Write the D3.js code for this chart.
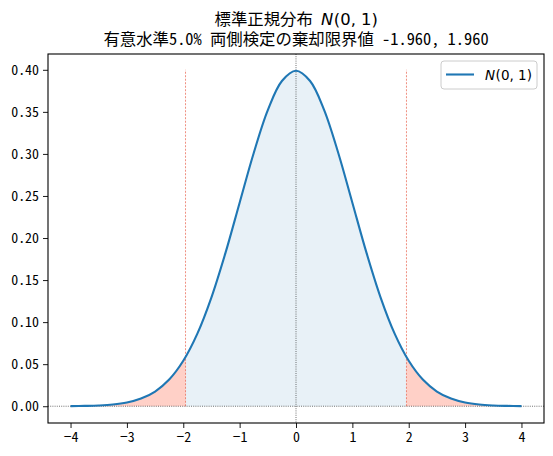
<!DOCTYPE html>
<html>
<head>
<meta charset="utf-8">
<script src="https://cdn.jsdelivr.net/npm/d3@7"></script>
<style>
  body { margin: 0; background: #fff; }
  text { font-family: "Noto Sans CJK JP", sans-serif; }
  .hw { font-feature-settings: "hwid" 1; }
</style>
</head>
<body>
<script>
var width = 553,
    height = 456,
    margin = {top: 54, right: 9, bottom: 33, left: 48};

// values (standard normal density)
var xs = [-4, -3.75, -3.5, -3.25, -3, -2.75, -2.5, -2.25, -2, -1.75, -1.5, -1.25, -1, -0.75, -0.5, -0.25,
          0, 0.25, 0.5, 0.75, 1, 1.25, 1.5, 1.75, 2, 2.25, 2.5, 2.75, 3, 3.25, 3.5, 3.75, 4];
var ys = [0.0001, 0.0004, 0.0009, 0.0020, 0.0044, 0.0091, 0.0175, 0.0317, 0.0540, 0.0863, 0.1295, 0.1826,
          0.2420, 0.3011, 0.3521, 0.3867, 0.3989, 0.3867, 0.3521, 0.3011, 0.2420, 0.1826, 0.1295, 0.0863,
          0.0540, 0.0317, 0.0175, 0.0091, 0.0044, 0.0020, 0.0009, 0.0004, 0.0001];
var critical = [-1.960, 1.960];
var critLineTop = 0.40;
var xTicks = [-4, -3, -2, -1, 0, 1, 2, 3, 4];
var yTicks = [0, 0.05, 0.10, 0.15, 0.20, 0.25, 0.30, 0.35, 0.40];
var title1 = "標準正規分布";
var title2 = "有意水準5.0%\u2002両側検定の棄却限界値\u2002-1.960,\u20021.960";

var data = xs.map(function(d, i) { return {x: d, y: ys[i]}; });

var svg = d3.select("body").append("svg")
    .attr("width", width)
    .attr("height", height);

var x = d3.scaleLinear().domain([-4.4, 4.4]).range([margin.left, width - margin.right]);
var y = d3.scaleLinear().domain([-0.01995, 0.4188]).range([height - margin.bottom, margin.top]);

var defs = svg.append("defs");
defs.append("clipPath").attr("id", "mid")
    .append("rect")
    .attr("x", x(critical[0])).attr("y", 0)
    .attr("width", x(critical[1]) - x(critical[0])).attr("height", height);
var tails = defs.append("clipPath").attr("id", "tails");
tails.append("rect").attr("x", 0).attr("y", 0).attr("width", x(critical[0])).attr("height", height);
tails.append("rect").attr("x", x(critical[1])).attr("y", 0)
    .attr("width", width - x(critical[1])).attr("height", height);

var area = d3.area()
    .curve(d3.curveCatmullRom)
    .x(function(d) { return x(d.x); })
    .y0(y(0))
    .y1(function(d) { return y(d.y); });

var line = d3.line()
    .curve(d3.curveCatmullRom)
    .x(function(d) { return x(d.x); })
    .y(function(d) { return y(d.y); });

svg.append("path").datum(data)
    .attr("d", area)
    .attr("fill", "#1f77b4").attr("fill-opacity", 0.1)
    .attr("clip-path", "url(#mid)");

svg.append("path").datum(data)
    .attr("d", area)
    .attr("fill", "#ff6347").attr("fill-opacity", 0.3)
    .attr("clip-path", "url(#tails)");

// critical value lines
svg.selectAll(".crit").data(critical).enter().append("line")
    .attr("class", "crit")
    .attr("x1", function(d) { return x(d); }).attr("x2", function(d) { return x(d); })
    .attr("y1", y(0)).attr("y2", y(critLineTop))
    .attr("stroke", "#e8604a").attr("stroke-width", 0.7)
    .attr("stroke-dasharray", "2,1.5");

// zero lines
svg.append("line")
    .attr("x1", margin.left).attr("x2", width - margin.right)
    .attr("y1", y(0)).attr("y2", y(0))
    .attr("stroke", "#333").attr("stroke-width", 0.7)
    .attr("stroke-dasharray", "1,1.2");
svg.append("line")
    .attr("x1", x(0)).attr("x2", x(0))
    .attr("y1", margin.top).attr("y2", height - margin.bottom)
    .attr("stroke", "#333").attr("stroke-width", 0.7)
    .attr("stroke-dasharray", "1,1.2");

svg.append("path").datum(data)
    .attr("d", line)
    .attr("fill", "none")
    .attr("stroke", "#1f77b4")
    .attr("stroke-width", 2.1);

// axes
var xAxis = svg.append("g")
    .attr("transform", "translate(0," + (height - margin.bottom) + ")")
    .call(d3.axisBottom(x).tickValues(xTicks).tickSize(5).tickPadding(4)
        .tickFormat(function(d) { return d < 0 ? "\u2212" + Math.abs(d) : d; }));
var yAxis = svg.append("g")
    .attr("transform", "translate(" + margin.left + ",0)")
    .call(d3.axisLeft(y).tickValues(yTicks).tickSize(5).tickPadding(4).tickFormat(d3.format(".2f")));

[xAxis, yAxis].forEach(function(g) {
  g.select(".domain").remove();
  g.selectAll("line").attr("stroke", "#000").attr("stroke-width", 0.9);
  g.selectAll("text").attr("fill", "#000").attr("class", "hw").style("font-size", "13.9px");
});

svg.append("rect")
    .attr("x", margin.left).attr("y", margin.top)
    .attr("width", width - margin.left - margin.right)
    .attr("height", height - margin.top - margin.bottom)
    .attr("fill", "none").attr("stroke", "#000").attr("stroke-width", 1.1);

// title: CJK part, then math N(0,1) as separate text pieces
var cx = (margin.left + width - margin.right) / 2;
var tA = svg.append("text").attr("y", 25).attr("class", "hw").style("font-size", "16.4px").text(title1);
var tN = svg.append("text").attr("y", 25).style("font-family", "DejaVu Sans")
    .style("font-style", "italic").style("font-size", "16.4px").text("N");
var tP = svg.append("text").attr("y", 25).style("font-family", "DejaVu Sans")
    .style("font-size", "16.4px").text("(0, 1)");
var gap = 8.2;
var wA = tA.node().getComputedTextLength(),
    wN = tN.node().getComputedTextLength(),
    wP = tP.node().getComputedTextLength();
var x0 = cx - (wA + gap + wN + wP) / 2;
tA.attr("x", x0);
tN.attr("x", x0 + wA + gap);
tP.attr("x", x0 + wA + gap + wN + 0.5);

svg.append("text").attr("x", cx).attr("y", 45)
    .attr("text-anchor", "middle").attr("class", "hw").style("font-size", "16.4px")
    .text(title2);

// legend
var lg = svg.append("g").attr("transform", "translate(441,61)");
lg.append("rect")
    .attr("width", 96).attr("height", 28).attr("rx", 3)
    .attr("fill", "#fff").attr("fill-opacity", 0.8)
    .attr("stroke", "#ccc").attr("stroke-width", 1);
lg.append("line")
    .attr("x1", 5).attr("x2", 33).attr("y1", 13.5).attr("y2", 13.5)
    .attr("stroke", "#1f77b4").attr("stroke-width", 2.1);
var ln = lg.append("text").attr("x", 44).attr("y", 19)
    .style("font-size", "13.5px").style("font-family", "DejaVu Sans").style("font-style", "italic").text("N");
lg.append("text").attr("x", 44 + ln.node().getComputedTextLength() + 0.5).attr("y", 19)
    .style("font-size", "13.5px").style("font-family", "DejaVu Sans").text("(0, 1)");
</script>
</body>
</html>
